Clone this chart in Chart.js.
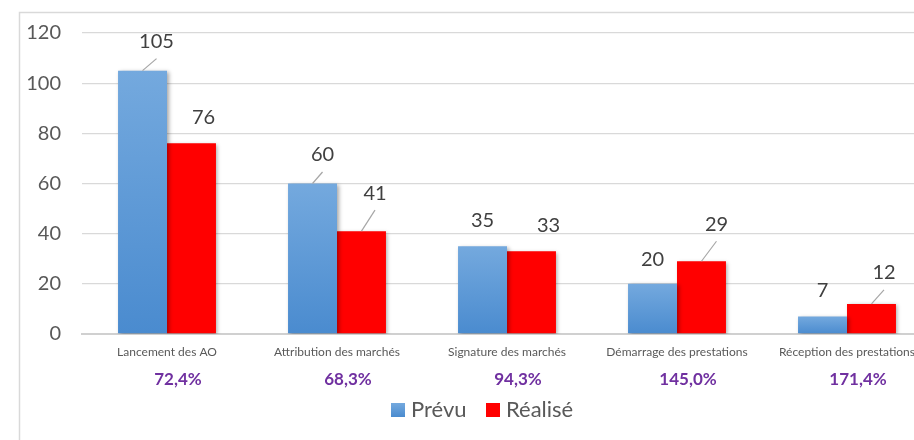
<!DOCTYPE html>
<html>
<head>
<meta charset="utf-8">
<script src="https://cdn.jsdelivr.net/npm/chart.js@4"></script>
<style>
  html, body { margin: 0; padding: 0; background: #fff; overflow: hidden; }
  #wrap { position: relative; width: 914px; height: 440px; overflow: hidden; }
  canvas { position: absolute; left: 0; top: 0; }
</style>
</head>
<body>
<div id="wrap"><canvas id="c" width="960" height="440"></canvas></div>
<script>
const categories = ['Lancement des AO', 'Attribution des marchés', 'Signature des marchés', 'Démarrage des prestations', 'Réception des prestations'];
const prevu = [105, 60, 35, 20, 7];
const realise = [76, 41, 33, 29, 12];
const tauxLabels = ['72,4%', '68,3%', '94,3%', '145,0%', '171,4%'];
const seriesNames = ['Prévu', 'Réalisé'];
const yMin = 0, yMax = 120, yStep = 20;

// label placement (offsets from bar top centre) — styling only
const labelPlacement = [
  [{dx: 14, dy: -29, line: true}, {dx: 10, dy: -28.5, line: true}, {dx: 0, dy: -25.5}, {dx: 0, dy: -24}, {dx: 0, dy: -26}],
  [{dx: 12, dy: -25.5}, {dx: 13.5, dy: -38, line: true}, {dx: 17, dy: -25.5}, {dx: 15, dy: -37, line: true}, {dx: 12.5, dy: -31, line: true}]
];

const FONT = 'Lato, "Open Sans", sans-serif';
const TEXT = '#595959';
const RED = '#FF0000';

function blueGradient(ctx, yTop, yBottom) {
  const g = ctx.createLinearGradient(0, yTop, 0, yBottom);
  g.addColorStop(0, '#74A9DE');
  g.addColorStop(1, '#4A8BCF');
  return g;
}

const blueFill = (c) => {
  const chart = c.chart;
  const ys = chart.scales && chart.scales.y;
  if (!ys || !chart.chartArea || c.raw === undefined) return '#5B9BD5';
  const top = ys.getPixelForValue(c.raw);
  const bottom = ys.getPixelForValue(0);
  if (!isFinite(top) || !isFinite(bottom) || top === bottom) return '#5B9BD5';
  return blueGradient(chart.ctx, top, bottom);
};

const framePlugin = {
  id: 'frame',
  beforeDraw(chart) {
    const ctx = chart.ctx;
    ctx.save();
    ctx.strokeStyle = '#D9D9D9';
    ctx.lineWidth = 1.5;
    ctx.beginPath();
    ctx.moveTo(19.5, 460);
    ctx.lineTo(19.5, 12.5);
    ctx.lineTo(1000, 12.5);
    ctx.stroke();
    ctx.restore();
  }
};

const shadowPlugin = {
  id: 'barShadow',
  beforeDatasetDraw(chart) {
    const ctx = chart.ctx;
    ctx.save();
    ctx.shadowColor = 'rgba(0,0,0,0.35)';
    ctx.shadowBlur = 4;
    ctx.shadowOffsetX = 1.5;
    ctx.shadowOffsetY = 1.5;
  },
  afterDatasetDraw(chart) {
    chart.ctx.restore();
  }
};

const labelsPlugin = {
  id: 'valueLabels',
  afterDatasetsDraw(chart) {
    const ctx = chart.ctx;
    ctx.save();
    chart.data.datasets.forEach((ds, di) => {
      const meta = chart.getDatasetMeta(di);
      meta.data.forEach((el, i) => {
        const p = labelPlacement[di][i];
        const lx = el.x + p.dx, ly = el.y + p.dy;
        if (p.line) {
          ctx.strokeStyle = '#A6A6A6';
          ctx.lineWidth = 1.2;
          ctx.beginPath();
          ctx.moveTo(el.x, el.y);
          ctx.lineTo(lx, ly + 17);
          ctx.stroke();
        }
        ctx.fillStyle = '#404040';
        ctx.font = '20px ' + FONT;
        ctx.textAlign = 'center';
        ctx.textBaseline = 'middle';
        ctx.fillText(String(ds.data[i]), lx, ly);
      });
    });
    // percentage row
    const xs = chart.scales.x;
    ctx.fillStyle = '#7030A0';
    ctx.font = 'bold 17px ' + FONT;
    ctx.textAlign = 'center';
    ctx.textBaseline = 'middle';
    tauxLabels.forEach((t, i) => {
      ctx.fillText(t, xs.getPixelForValue(i) + 11, 380);
    });
    // legend
    const items = [
      {name: seriesNames[0], x: 391, fill: blueGradient(ctx, 403, 417)},
      {name: seriesNames[1], x: 486, fill: RED}
    ];
    items.forEach(it => {
      ctx.fillStyle = it.fill;
      ctx.fillRect(it.x, 403, 14, 14);
      ctx.fillStyle = TEXT;
      ctx.font = '22px ' + FONT;
      ctx.textAlign = 'left';
      ctx.textBaseline = 'middle';
      ctx.fillText(it.name, it.x + 20, 410);
    });
    ctx.restore();
  }
};

new Chart(document.getElementById('c'), {
  type: 'bar',
  data: {
    labels: categories,
    datasets: [
      { label: seriesNames[0], data: prevu, backgroundColor: blueFill, borderWidth: 0 },
      { label: seriesNames[1], data: realise, backgroundColor: RED, borderWidth: 0 }
    ]
  },
  options: {
    responsive: false,
    animation: false,
    events: [],
    layout: { padding: { top: 31, right: 28, left: 0, bottom: 0 } },
    datasets: { bar: { categoryPercentage: 0.576, barPercentage: 1 } },
    plugins: { legend: { display: false }, tooltip: { enabled: false } },
    scales: {
      x: {
        grid: { display: false, drawTicks: false },
        border: { display: true, color: '#D0D0D0', width: 2 },
        ticks: { color: TEXT, font: { family: FONT, size: 12 }, padding: 11, maxRotation: 0, autoSkip: false },
        afterFit(s) { s.height = 106; }
      },
      y: {
        min: yMin, max: yMax,
        grid: { color: '#D9D9D9', lineWidth: 1.3, drawTicks: false },
        border: { display: false },
        ticks: { stepSize: yStep, color: TEXT, font: { family: FONT, size: 20 }, padding: 21 },
        afterFit(s) { s.width = 82; }
      }
    }
  },
  plugins: [framePlugin, shadowPlugin, labelsPlugin]
});
</script>
</body>
</html>
